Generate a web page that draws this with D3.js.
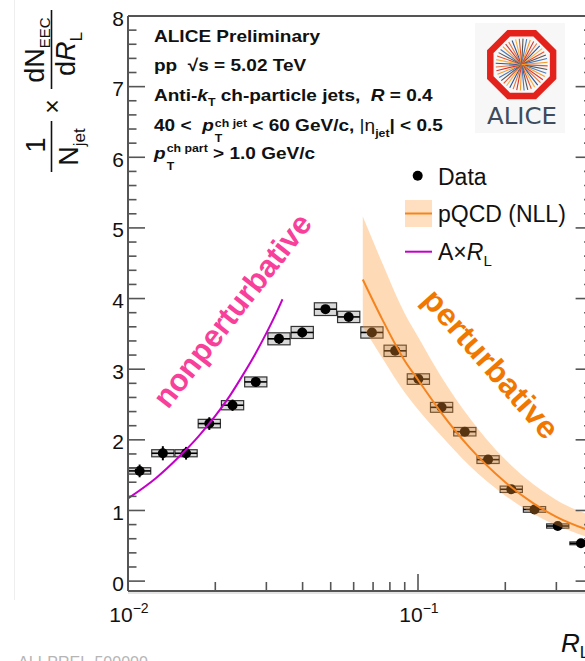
<!DOCTYPE html>
<html>
<head>
<meta charset="utf-8">
<script src="https://cdn.jsdelivr.net/npm/d3@7"></script>
<style>
  body { margin: 0; background: #fff; }
  svg { display: block; font-family: "Liberation Sans", Arial, Helvetica, sans-serif; }
</style>
</head>
<body>
<div id="chart"></div>
<script>
// R_L bin edges (log bins, 0.01 - 0.4)
var rlEdges = [0.01, 0.012025, 0.014461, 0.017390, 0.020912, 0.025149, 0.030242, 0.036368,
               0.043733, 0.052591, 0.063246, 0.076055, 0.091459, 0.10998, 0.13226, 0.15905,
               0.19126, 0.23000, 0.27659, 0.33261, 0.4];
// data points
var eecData = [1.56, 1.81, 1.81, 2.23, 2.49, 2.82, 3.43, 3.52, 3.85, 3.74,
               3.52, 3.26, 2.86, 2.46, 2.115, 1.72, 1.30, 1.015, 0.78, 0.535];
var statErr = [0.09, 0.10, 0.09, 0.09, 0.08, 0.07, 0.07, 0.07, 0.06, 0.05,
               0.05, 0.04, 0.04, 0.04, 0.03, 0.03, 0.03, 0.03, 0.03, 0.03];
var sysErr  = [0.045, 0.05, 0.05, 0.06, 0.065, 0.07, 0.085, 0.085, 0.09, 0.08,
               0.08, 0.08, 0.075, 0.07, 0.06, 0.055, 0.045, 0.04, 0.03, 0.02];

// pQCD (NLL) band
var pqcdR    = [0.0645, 0.075, 0.09, 0.1, 0.12, 0.15, 0.2, 0.25, 0.3, 0.4];
var pqcdMid  = [4.27, 3.72, 3.12, 2.85, 2.39, 1.90, 1.40, 1.10, 0.91, 0.70];
var pqcdHigh = [5.16, 4.52, 3.79, 3.46, 2.90, 2.32, 1.72, 1.37, 1.15, 0.92];
var pqcdLow  = [3.60, 3.17, 2.67, 2.43, 2.06, 1.64, 1.21, 0.95, 0.79, 0.60];

// A x R_L
var aR   = [0.01, 0.0125, 0.015, 0.0175, 0.02, 0.0225, 0.025, 0.0275, 0.03, 0.0325, 0.0341];
var aVal = [1.17, 1.46, 1.76, 2.05, 2.34, 2.63, 2.93, 3.22, 3.51, 3.80, 3.99];

var yTicks = [0, 1, 2, 3, 4, 5, 6, 7, 8];

// ------------------------------------------------------------------
const W = 585, H = 661;
const pL = 128, pR = 592.6, pT = 16, pB = 591;
const orange = "#f5841f", magenta = "#c400c8";

var svg = d3.select("#chart").append("svg")
  .attr("width", W).attr("height", H);

const x = d3.scaleLog().domain([0.01, 0.4]).range([pL, pR]);
const y = d3.scaleLinear().domain([-0.14, 8]).range([pB, pT]);

svg.append("defs").append("clipPath").attr("id", "plot")
  .append("rect").attr("x", pL).attr("y", pT)
  .attr("width", pR - pL).attr("height", pB - pT);

// faint page stuff
svg.append("line").attr("x1", 14.5).attr("x2", 14.5).attr("y1", 0).attr("y2", 600)
  .attr("stroke", "#eeeeee");
svg.append("text").attr("x", 18).attr("y", 668).text("ALI-PREL-500000")
  .style("font-size", "16px").attr("fill", "#b5b5b5");

// ALICE logo
var logo = svg.append("g");
logo.append("rect").attr("x", 475).attr("y", 23).attr("width", 90).attr("height", 110)
  .attr("fill", "#f7f7f7");
const lcx = 521.7, lcy = 64.6;
const rayCols = ["#e8502b", "#f39a2a", "#2f5597", "#555555", "#d6332b", "#f6b13c", "#4a78b8", "#e4723a"];
d3.range(44).forEach(i => {
  const a = i * Math.PI / 22 + 0.05, r = 26;
  logo.append("line")
    .attr("x1", lcx).attr("y1", lcy)
    .attr("x2", lcx + r * Math.cos(a)).attr("y2", lcy + r * Math.sin(a))
    .attr("stroke", rayCols[(i * 3) % rayCols.length]).attr("stroke-width", 1.1);
});
var oct = d3.range(8).map(i => {
  const a = Math.PI / 8 + i * Math.PI / 4;
  return [lcx + 34 * Math.cos(a), lcy + 34 * Math.sin(a)];
});
logo.append("polygon").attr("points", oct.map(p => p.join(",")).join(" "))
  .attr("fill", "none").attr("stroke", "#e3231b").attr("stroke-width", 6.5);
logo.append("text").attr("x", 487).attr("y", 123.5).text("ALICE")
  .attr("textLength", 70).attr("lengthAdjust", "spacingAndGlyphs")
  .style("font-family", "'DejaVu Sans'").style("font-size", "23px")
  .attr("fill", "#3d4b5c");

// ------------------------------------------------------------------
// data: sys boxes, x errors, stat errors, markers
var pts = eecData.map((v, i) => ({
  lo: rlEdges[i], hi: rlEdges[i + 1], c: Math.sqrt(rlEdges[i] * rlEdges[i + 1]),
  v: v, st: statErr[i], sy: sysErr[i]
}));

var dataG = svg.append("g").attr("clip-path", "url(#plot)");
dataG.selectAll("rect.sys").data(pts).enter().append("rect")
  .attr("x", d => x(d.lo) + 0.5).attr("width", d => x(d.hi) - x(d.lo) - 1)
  .attr("y", d => y(d.v + d.sy)).attr("height", d => y(d.v - d.sy) - y(d.v + d.sy))
  .attr("fill", "#d9d9d9").attr("stroke", "#333").attr("stroke-width", 1.2);
dataG.selectAll("line.xe").data(pts).enter().append("line")
  .attr("x1", d => x(d.lo) + 0.5).attr("x2", d => x(d.hi) - 0.5)
  .attr("y1", d => y(d.v)).attr("y2", d => y(d.v))
  .attr("stroke", "#000").attr("stroke-width", 1.6);
dataG.selectAll("line.ye").data(pts).enter().append("line")
  .attr("x1", d => x(d.c)).attr("x2", d => x(d.c))
  .attr("y1", d => y(d.v + d.st)).attr("y2", d => y(d.v - d.st))
  .attr("stroke", "#000").attr("stroke-width", 2);
dataG.selectAll("circle").data(pts).enter().append("circle")
  .attr("cx", d => x(d.c)).attr("cy", d => y(d.v)).attr("r", 5)
  .attr("fill", "#000");

// pQCD band + line (drawn over data, semi transparent)
var pq = pqcdR.map((r, i) => ({ r: r, m: pqcdMid[i], h: pqcdHigh[i], l: pqcdLow[i] }));
var theoG = svg.append("g").attr("clip-path", "url(#plot)");
theoG.append("path").datum(pq)
  .attr("d", d3.area().x(d => x(d.r)).y0(d => y(d.l)).y1(d => y(d.h)).curve(d3.curveMonotoneX))
  .attr("fill", "rgb(255,150,45)").attr("fill-opacity", 0.35);
theoG.append("path").datum(pq)
  .attr("d", d3.line().x(d => x(d.r)).y(d => y(d.m)).curve(d3.curveMonotoneX))
  .attr("fill", "none").attr("stroke", orange).attr("stroke-width", 2);

// A x R_L
theoG.append("path").datum(aR.map((r, i) => [r, aVal[i]]))
  .attr("d", d3.line().x(d => x(d[0])).y(d => y(d[1])).curve(d3.curveMonotoneX))
  .attr("fill", "none").attr("stroke", magenta).attr("stroke-width", 2);

// ------------------------------------------------------------------
// axes
const axCol = "#555";
// shadow under x axis
svg.append("rect").attr("x", pL).attr("y", pB).attr("width", W - pL).attr("height", 3)
  .attr("fill", "#e4e4e4");
svg.append("line").attr("x1", pL).attr("x2", pR).attr("y1", pB).attr("y2", pB)
  .attr("stroke", axCol).attr("stroke-width", 2);
svg.append("line").attr("x1", pL).attr("x2", pR).attr("y1", pT).attr("y2", pT)
  .attr("stroke", axCol).attr("stroke-width", 2);
svg.append("line").attr("x1", pL).attr("x2", pL).attr("y1", pT).attr("y2", pB)
  .attr("stroke", axCol).attr("stroke-width", 2);
svg.append("line").attr("x1", pR).attr("x2", pR).attr("y1", pT).attr("y2", pB)
  .attr("stroke", axCol).attr("stroke-width", 2);

// y ticks (left and right)
var yMinor = d3.range(0, 8.001, 0.2).map(v => +v.toFixed(1));
[[pL, 1], [pR, -1]].forEach(([ax, dir]) => {
  svg.append("g").selectAll("line").data(yMinor).enter().append("line")
    .attr("x1", ax).attr("x2", d => ax + dir * (Number.isInteger(d) ? 17 : 8.5))
    .attr("y1", d => y(d)).attr("y2", d => y(d))
    .attr("stroke", axCol).attr("stroke-width", 1.6);
});
svg.append("g").selectAll("text").data(yTicks).enter().append("text")
  .attr("x", 124).attr("y", d => y(d) + 9.5).attr("text-anchor", "end")
  .style("font-size", "21px").attr("fill", "#111").text(d => d);

// x ticks
var xMinor = [];
[0.01, 0.1].forEach(dec => d3.range(1, 10).forEach(k => { if (dec * k <= 0.4) xMinor.push(+(dec * k).toPrecision(3)); }));
svg.append("g").selectAll("line").data(xMinor).enter().append("line")
  .attr("x1", d => x(d)).attr("x2", d => x(d))
  .attr("y1", pB).attr("y2", d => pB - ((d === 0.01 || d === 0.1) ? 17 : 9))
  .attr("stroke", axCol).attr("stroke-width", 1.6);
[[0.01, "\u22122"], [0.1, "\u22121"]].forEach(([v, e]) => {
  var t = svg.append("text").attr("x", x(v) + 1).attr("y", 622).attr("text-anchor", "middle")
    .style("font-size", "21px").attr("fill", "#111");
  t.append("tspan").text("10");
  t.append("tspan").attr("dy", -9).style("font-size", "14px").text(e);
});

// x title (partly outside, as in the original)
var xt = svg.append("text").attr("x", 561).attr("y", 652).style("font-size", "26px").attr("fill", "#111");
xt.append("tspan").style("font-style", "italic").text("R");
xt.append("tspan").attr("dy", 6).style("font-size", "17px").text("L");

// y title, rotated
var yt = svg.append("g").attr("transform", "rotate(-90)").attr("fill", "#111");
function yline(sy1, sy2, sx) {
  yt.append("line").attr("x1", -sy1).attr("x2", -sy2).attr("y1", sx).attr("y2", sx)
    .attr("stroke", "#111").attr("stroke-width", 1.6);
}
yline(121, 172, 51.5);
yline(10, 89, 51.5);
yt.append("text").attr("x", -145).attr("y", 45).attr("text-anchor", "middle")
  .style("font-size", "27px").text("1");
var nj = yt.append("text").attr("x", -147).attr("y", 78).attr("text-anchor", "middle")
  .style("font-size", "27px");
nj.append("tspan").text("N");
nj.append("tspan").attr("dy", 7).style("font-size", "17px").text("jet");
yt.append("text").attr("x", -106.5).attr("y", 61).attr("text-anchor", "middle")
  .style("font-size", "25px").text("\u00d7");
var dn = yt.append("text").attr("x", -50).attr("y", 44).attr("text-anchor", "middle")
  .style("font-size", "27px");
dn.append("tspan").text("dN");
dn.append("tspan").attr("dy", 6).style("font-size", "15px").text("EEC");
var dr = yt.append("text").attr("x", -54).attr("y", 75).attr("text-anchor", "middle")
  .style("font-size", "27px");
dr.append("tspan").text("d");
dr.append("tspan").style("font-style", "italic").text("R");
dr.append("tspan").attr("dy", 7).style("font-size", "17px").text("L");

// ------------------------------------------------------------------
// info text block
var info = svg.append("g").attr("transform", "translate(154,0) scale(1.12,1) translate(-154,0)")
  .attr("fill", "#111").style("font-weight", "bold");

function runText(g, x0, y0, parts) {
  var cx = x0;
  parts.forEach(p => {
    if (p.stack) {
      var w = 0;
      p.stack.forEach(s => {
        var t = g.append("text").attr("x", cx).attr("y", y0 + s.dy)
          .style("font-size", s.size + "px").text(s.t);
        w = Math.max(w, t.node().getComputedTextLength());
      });
      cx += w;
    } else {
      var t = g.append("text").attr("x", cx).attr("y", y0 + (p.dy || 0))
        .style("font-size", (p.size || 17) + "px")
        .style("font-style", p.it ? "italic" : "normal")
        .style("font-weight", p.normal ? "normal" : "bold")
        .attr("xml:space", "preserve").text(p.t);
      cx += t.node().getComputedTextLength() + (p.gap || 0);
    }
  });
  return cx;
}
runText(info, 154, 42, [{ t: "ALICE Preliminary" }]);
runText(info, 154, 71.5, [{ t: "pp  \u221As = 5.02 TeV" }]);
runText(info, 154, 101.5, [{ t: "Anti-" }, { t: "k", it: true }, { t: "T", size: 11, dy: 5 },
  { t: " ch-particle jets,  " }, { t: "R", it: true }, { t: " = 0.4" }]);
runText(info, 154, 130.7, [{ t: "40 <  " }, { t: "p", it: true, gap: 1 },
  { stack: [{ t: "ch jet", size: 11, dy: -4 }, { t: "T", size: 11, dy: 11 }] },
  { t: " < 60 GeV/c, " }, { t: "|\u03b7", normal: true }, { t: "jet", size: 11, dy: 6 },
  { t: "| < 0.5" }]);
runText(info, 154, 159.3, [{ t: "p", it: true, gap: 1 },
  { stack: [{ t: "ch part", size: 11, dy: -7 }, { t: "T", size: 11, dy: 11 }] },
  { t: " > 1.0 GeV/c" }]);

// legend
var leg = svg.append("g").attr("fill", "#111");
leg.append("circle").attr("cx", 417.7).attr("cy", 175.7).attr("r", 5).attr("fill", "#000");
leg.append("text").attr("x", 438).attr("y", 185).style("font-size", "23px").text("Data");
leg.append("rect").attr("x", 405).attr("y", 200).attr("width", 27).attr("height", 27)
  .attr("fill", "rgb(255,150,45)").attr("fill-opacity", 0.3);
leg.append("line").attr("x1", 405).attr("x2", 432).attr("y1", 213.5).attr("y2", 213.5)
  .attr("stroke", orange).attr("stroke-width", 2);
leg.append("text").attr("x", 438).attr("y", 222).style("font-size", "23px").text("pQCD (NLL)");
leg.append("line").attr("x1", 405).attr("x2", 432).attr("y1", 251.7).attr("y2", 251.7)
  .attr("stroke", magenta).attr("stroke-width", 2);
var at = leg.append("text").attr("x", 438).attr("y", 259.5).style("font-size", "23px");
at.append("tspan").text("A\u00d7");
at.append("tspan").style("font-style", "italic").text("R");
at.append("tspan").attr("dy", 6).style("font-size", "15px").text("L");

// region labels
svg.append("text")
  .attr("transform", "translate(168,410) rotate(-52)")
  .attr("textLength", 236).attr("lengthAdjust", "spacingAndGlyphs")
  .style("font-size", "31px").style("font-weight", "bold").attr("fill", "#f8409a")
  .text("nonperturbative");
svg.append("text")
  .attr("transform", "translate(483,371) rotate(48.5)")
  .attr("text-anchor", "middle")
  .attr("textLength", 188).attr("lengthAdjust", "spacingAndGlyphs")
  .style("font-size", "31px").style("font-weight", "bold").attr("fill", "#f07800")
  .text("perturbative");
</script>
</body>
</html>
